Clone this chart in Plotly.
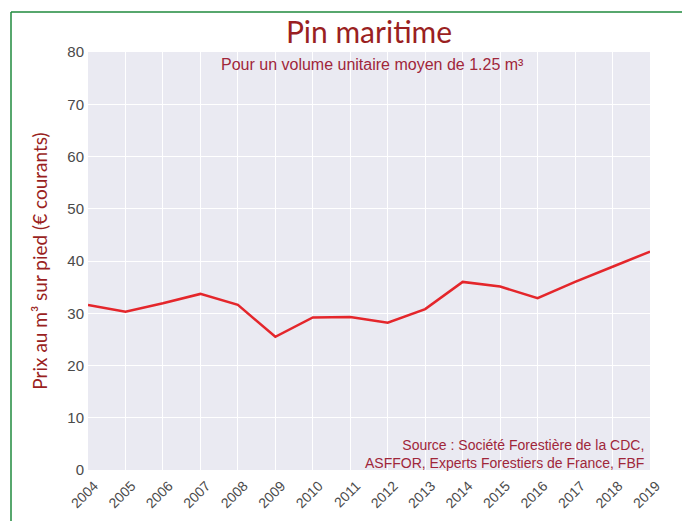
import plotly.graph_objects as go

# Prix moyen du pin maritime sur pied (€ courants par m³)
years = [2004, 2005, 2006, 2007, 2008, 2009, 2010, 2011,
         2012, 2013, 2014, 2015, 2016, 2017, 2018, 2019]
prices = [31.6, 30.3, 31.9, 33.7, 31.6, 25.5, 29.2, 29.3,
          28.2, 30.8, 36.0, 35.1, 32.9, 36.0, 38.9, 41.8]
y_ticks = [0, 10, 20, 30, 40, 50, 60, 70, 80]

W, H = 682, 521
L, R, T, B = 88, 32, 52, 51
pw, ph = W - L - R, H - T - B


def px(x):
    return (x - L) / pw


def py(y):
    return (H - B - y) / ph


dark_red = "#9a1f22"
tick_grey = "#4a4a4a"
green = "#1f8a3c"

fig = go.Figure()
fig.add_trace(go.Scatter(
    x=years, y=prices, mode="lines",
    line=dict(color="#e4262b", width=2.5),
    showlegend=False, hoverinfo="x+y",
))

fig.update_layout(
    width=W, height=H,
    margin=dict(l=L, r=R, t=T, b=B),
    paper_bgcolor="white",
    plot_bgcolor="#eaeaf2",
    title=dict(
        text="Pin maritime", xref="paper", x=px(369), xanchor="center",
        y=1 - 32 / H, yanchor="middle",
        font=dict(family="Lato", size=30, color=dark_red),
    ),
    xaxis=dict(
        range=[2004, 2019], tickmode="array", tickvals=years,
        ticktext=[str(y) for y in years], tickangle=-45,
        ticklabelshift=6, ticklabelstandoff=4, automargin=False,
        showgrid=True, gridcolor="white", gridwidth=1.2,
        zeroline=False, showline=False, ticks="",
        tickfont=dict(family="Liberation Sans", size=14, color=tick_grey),
    ),
    yaxis=dict(
        range=[0, 80], tickmode="array", tickvals=y_ticks,
        showgrid=True, gridcolor="white", gridwidth=1.2,
        zeroline=False, showline=False, ticks="",
        ticklabelstandoff=3, automargin=False,
        tickfont=dict(family="Liberation Sans", size=15, color=tick_grey),
        title=dict(
            text="Prix au m³ sur pied (€ courants)",
            font=dict(family="Lato", size=19, color=dark_red),
            standoff=14,
        ),
    ),
    annotations=[
        dict(
            text="Pour un volume unitaire moyen de 1.25 m³",
            xref="paper", yref="paper", x=px(372), y=py(64),
            xanchor="center", yanchor="middle", showarrow=False,
            font=dict(family="Liberation Sans", size=16, color="#a0263a"),
        ),
        dict(
            text="Source : Société Forestière de la CDC,<br>"
                 "ASFFOR, Experts Forestiers de France, FBF",
            xref="paper", yref="paper", x=px(646), y=py(454),
            xanchor="right", yanchor="middle", align="right",
            showarrow=False,
            font=dict(family="Liberation Sans", size=14, color="#a0263a"),
        ),
    ],
    shapes=[
        dict(type="line", xref="paper", yref="paper",
             x0=px(11), x1=px(11), y0=py(12), y1=py(H + 5),
             line=dict(color=green, width=1.5)),
        dict(type="line", xref="paper", yref="paper",
             x0=px(11), x1=px(W + 5), y0=py(12), y1=py(12),
             line=dict(color=green, width=1.5)),
    ],
)

fig.write_html("out.html")
